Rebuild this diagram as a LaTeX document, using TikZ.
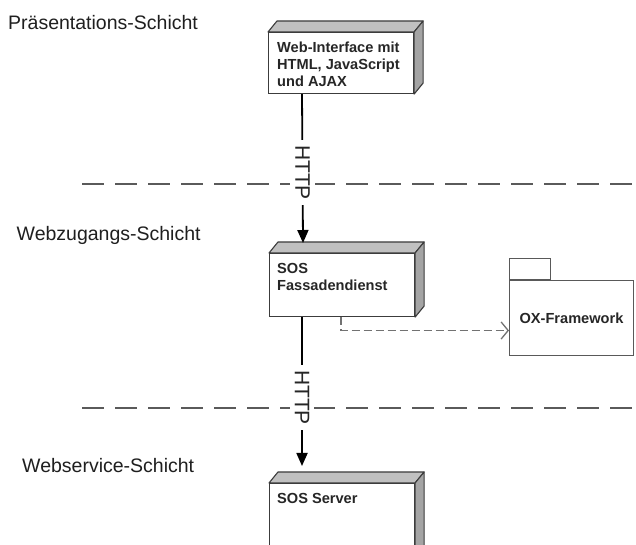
\documentclass[tikz,border=0pt]{standalone}
\usepackage{fontspec}
\setmainfont{Liberation Sans}
\usetikzlibrary{arrows.meta,calc}
\definecolor{boxline}{HTML}{3C3C3C}
\definecolor{topface}{HTML}{C0C0C0}
\definecolor{sideface}{HTML}{A4A4A4}
\definecolor{layerline}{HTML}{5A5A5A}
\definecolor{depline}{HTML}{727272}
\begin{document}
\begin{tikzpicture}[x=1pt,y=1pt,
  nodebox/.style={draw=boxline, line width=1.1pt, fill=white, anchor=north west, minimum width=145pt, inner sep=0pt},
  face3d/.style={draw=boxline, line width=1.1pt, line join=round},
  boxtext/.style={font=\fontsize{14.6}{17}\selectfont\bfseries, align=left, anchor=north west, inner sep=0pt, text=black!85},
  layertext/.style={font=\fontsize{19.5}{23}\selectfont, anchor=base west, inner sep=0pt, text=black!88},
  layersep/.style={draw=layerline, line width=1.3pt, dash pattern=on 22pt off 11pt},
  http/.style={draw=black, line width=1.8pt, -{Triangle[length=13pt,width=11pt]}},
  httplabel/.style={rotate=-90, fill=white, inner sep=5pt, font=\fontsize{21}{24}\selectfont, text=black!85},
  dep/.style={draw=depline, line width=1.3pt, dash pattern=on 8pt off 4pt, -{Straight Barb[length=7pt,width=17pt]}},
  pkg/.style={draw=boxline!85, line width=1pt, fill=white, inner sep=0pt, font=\fontsize{14.6}{17}\selectfont\bfseries, text=black!85}
]
\clip (0,0) rectangle (636,545);
\fill[white] (0,0) rectangle (636,545);

% layer labels
\node[layertext] (l1) at (8,515) {Präsentations-Schicht};
\node[layertext] (l2) at (16.5,304) {Webzugangs-Schicht};
\node[layertext] (l3) at (22,72) {Webservice-Schicht};

% layer separators
\coordinate (s1a) at (82,361);
\coordinate (s1b) at (640,361);
\coordinate (s2a) at (82,137);
\coordinate (s2b) at (640,137);
\draw[layersep] (s1a) -- (s1b);
\draw[layersep] (s2a) -- (s2b);

% nodes
\node[nodebox, minimum height=61pt] (web) at (268,513) {};
\node[nodebox, minimum height=63pt] (sos) at (269,292) {};
\node[nodebox, minimum height=80pt] (srv) at (269,62) {};
\foreach \b in {web,sos,srv}{
  \filldraw[face3d, fill=topface] (\b.north west) -- ++(9,11) -- ($(\b.north east)+(9,11)$) -- (\b.north east) -- cycle;
  \filldraw[face3d, fill=sideface] (\b.north east) -- ++(9,11) -- ($(\b.south east)+(9,11)$) -- (\b.south east) -- cycle;
}
\node[boxtext] (webtxt) at (277,503) {Web-Interface mit\\HTML, JavaScript\\und AJAX};
\node[boxtext] (sostxt) at (277,282) {SOS\\Fassadendienst};
\node[boxtext] (srvtxt) at (277,52) {SOS Server};

% package
\node[pkg, minimum width=41pt, minimum height=21pt, anchor=south west] (tab) at (509,265) {};
\node[pkg, minimum width=124pt, minimum height=75pt, anchor=north west] (ox) at (509,265) {OX-Framework};

% connectors
\draw[http] ([xshift=34pt]web.south west) -- node[httplabel, pos=0.527] (h1) {HTTP} ([xshift=34pt,yshift=10pt]sos.north west);
\draw[http] ([xshift=33pt]sos.south west) -- node[httplabel, pos=0.54] (h2) {HTTP} ([xshift=33pt,yshift=17pt]srv.north west);
\draw[dep] ([xshift=72pt]sos.south west) |- ([yshift=-12.5pt]ox.west);
\end{tikzpicture}
\end{document}
